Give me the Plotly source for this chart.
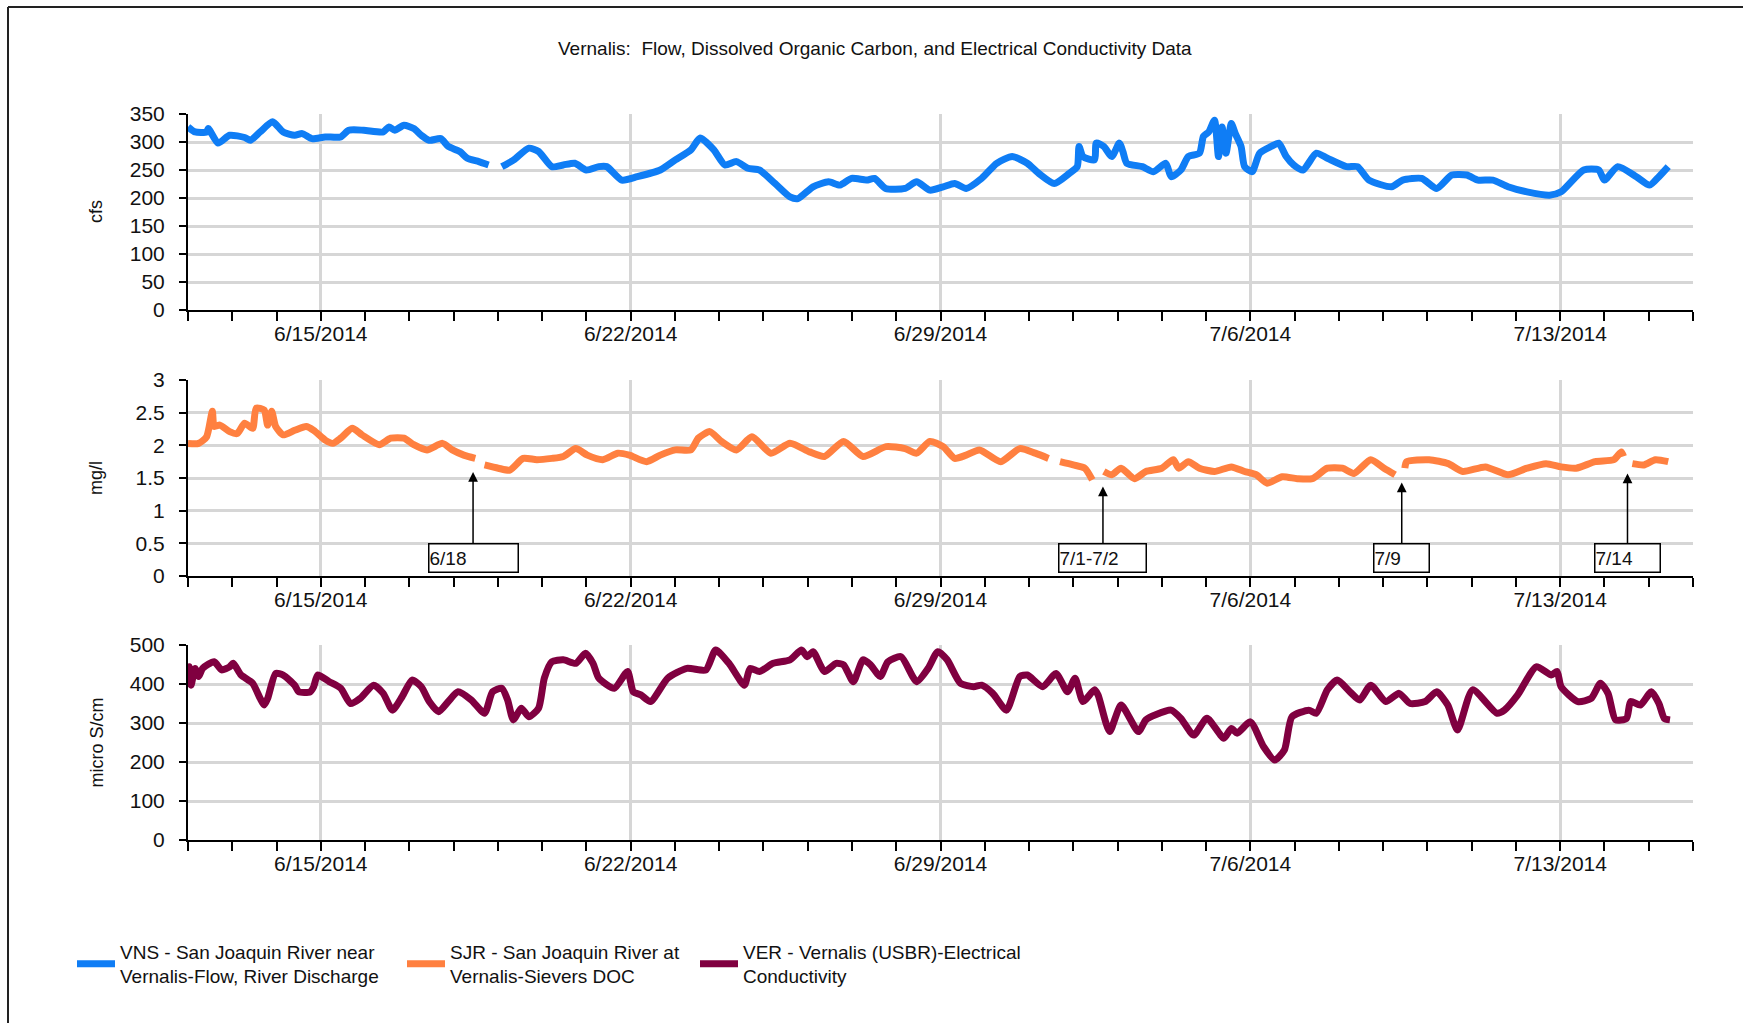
import pandas as pd
import plotly.graph_objects as go

# ---------------- DATA ----------------
START = "2014-06-12"
END = "2014-07-16"

# Flow (cfs), days after 6/12/2014 00:00 ; None = gap
flow_days = [0, 0.16, 0.42, 0.46, 0.68, 0.94, 1.28, 1.41, 1.63, 1.91, 2.15, 2.41, 2.58, 2.80,
             3.10, 3.45, 3.63, 3.97, 4.41, 4.54, 4.67, 4.88, 5.10, 5.27, 5.45, 5.71, 5.88,
             6.14, 6.31, 6.57, 6.79, 6.94, 7.09, 7.36, 7.70, 7.92, 8.22, 8.48, 8.74, 9.0,
             9.28, 9.46, 9.80, 10.15, 10.67, 11.01, 11.36, 11.57, 11.88, 12.13, 12.39,
             12.65, 12.91, 13.26, 13.60, 13.78, 14.12, 14.47, 14.73, 14.99, 15.33, 15.51,
             15.76, 16.20, 16.46, 16.76, 17.06, 17.32, 17.58, 17.93, 18.27, 18.62, 18.96,
             19.22, 19.57, 19.91, 20.09, 20.13, 20.22, 20.48, 20.52, 20.69, 20.87, 21.04,
             21.12, 21.21, 21.56, 21.81, 22.09, 22.21, 22.43, 22.60, 22.85, 22.94, 23.06,
             23.19, 23.28, 23.36, 23.45, 23.57, 23.66, 23.79, 23.87, 24.04, 24.21, 24.47,
             24.64, 24.81, 24.98, 25.19, 25.49, 25.74, 26.17, 26.42, 26.68, 27.19, 27.44,
             27.87, 28.21, 28.55, 28.89, 29.14, 29.48, 29.82, 30.25, 30.76, 31.02, 31.53,
             31.87, 32.0, 32.30, 32.72, 33.02, 33.23, 33.44]
flow_cfs = [327, 318, 318, 324, 298, 312, 308, 303, 318, 336, 318, 312, 315, 306,
            309, 309, 321, 321, 318, 327, 321, 330, 324, 312, 303, 306, 292,
            283, 271, 265, 259, None, 256, 268, 289, 283, 256, 259, 262, 250,
            256, 256, 232, 238, 250, 268, 286, 307, 286, 259, 265,
            253, 250, 226, 202, 199, 220, 229, 223, 235, 232, 235,
            217, 217, 229, 214, 220, 226, 217, 235, 262, 274, 262,
            244, 226, 244, 256, 292, 274, 268, 298, 292, 274, 298,
            283, 262, 256, 247, 262, 238, 250, 274, 280, 310, 318,
            339, 274, 327, 280, 333, 315, 292, 256, 247, 280, 292,
            298, 274, 259, 250, 280, 271, 256, 256, 232, 220, 232,
            235, 217, 241, 241, 232, 232, 220, 211, 205, 211, 250,
            250, 232, 256, 238, 223, 238, 256]

# Dissolved organic carbon (mg/l)
doc_days = [0, 0.24, 0.42, 0.55, 0.59, 0.72, 0.94, 1.11, 1.28, 1.46, 1.54, 1.72, 1.80, 1.89,
            1.98, 2.15, 2.41, 2.67, 2.84, 3.10, 3.27, 3.45, 3.71, 3.93, 4.32, 4.58, 4.88,
            5.10, 5.40, 5.75, 5.97, 6.23, 6.49, 6.60, 6.70, 7.01, 7.27, 7.57, 7.88, 8.22,
            8.48, 8.76, 9.02, 9.37, 9.71, 9.97, 10.36, 10.67, 11.01, 11.36, 11.53, 11.79,
            12.05, 12.39, 12.74, 13.17, 13.60, 14.04, 14.38, 14.81, 15.25, 15.77, 16.20,
            16.46, 16.76, 17.06, 17.32, 17.58, 17.88, 18.36, 18.79, 19.14, 19.44, 19.57,
            19.70, 20.0, 20.26, 20.43, 20.56, 20.69, 20.87, 21.08, 21.38, 21.64, 22.0,
            22.26, 22.38, 22.60, 22.85, 23.19, 23.57, 23.87, 24.13, 24.38, 24.72, 25.06,
            25.40, 25.74, 26.08, 26.34, 26.72, 27.02, 27.27, 27.38, 27.49, 27.53, 28.04,
            28.47, 28.80, 29.31, 29.82, 30.25, 30.68, 31.02, 31.36, 31.79, 32.21, 32.38,
            32.43, 32.53, 32.63, 32.89, 33.15, 33.44]
doc_mgl = [2.03, 2.03, 2.13, 2.52, 2.29, 2.31, 2.21, 2.18, 2.34, 2.26, 2.57, 2.54, 2.31, 2.52,
           2.29, 2.16, 2.23, 2.29, 2.23, 2.08, 2.03, 2.11, 2.26, 2.16, 2.01, 2.11, 2.11,
           2.01, 1.93, 2.03, 1.93, 1.85, 1.80, None, 1.70, 1.65, 1.62, 1.80, 1.78, 1.80,
           1.83, 1.95, 1.85, 1.78, 1.88, 1.85, 1.75, 1.85, 1.93, 1.93, 2.11, 2.21,
           2.06, 1.93, 2.13, 1.88, 2.03, 1.90, 1.83, 2.06, 1.83, 1.98, 1.95,
           1.88, 2.06, 1.98, 1.80, 1.85, 1.93, 1.75, 1.95, 1.88, 1.80, None,
           1.75, 1.70, 1.65, 1.47, None, 1.60, 1.55, 1.65, 1.49, 1.60, 1.65,
           1.78, 1.65, 1.75, 1.65, 1.60, 1.67, 1.60, 1.55, 1.42, 1.52, 1.49,
           1.49, 1.65, 1.65, 1.57, 1.78, 1.65, 1.55, None, 1.65, 1.75, 1.78,
           1.72, 1.60, 1.67, 1.55, 1.65, 1.72, 1.67, 1.65, 1.75, 1.78, 1.90,
           1.83, None, 1.72, 1.70, 1.78, 1.75]

# Electrical conductivity (micro S/cm)
ec_days = [0, 0.03, 0.07, 0.16, 0.24, 0.33, 0.59, 0.76, 0.94, 1.02, 1.20, 1.46, 1.63, 1.72,
           1.80, 1.98, 2.15, 2.41, 2.50, 2.76, 2.84, 2.93, 3.19, 3.45, 3.67, 3.89, 4.19,
           4.41, 4.62, 4.84, 5.06, 5.27, 5.45, 5.66, 5.88, 6.10, 6.40, 6.70, 6.88, 7.09,
           7.22, 7.35, 7.53, 7.70, 7.92, 8.05, 8.22, 8.48, 8.76, 8.98, 9.15, 9.28, 9.63,
           9.93, 10.06, 10.23, 10.45, 10.84, 11.27, 11.70, 11.92, 12.22, 12.57, 12.70,
           12.91, 13.22, 13.60, 13.86, 13.99, 14.12, 14.38, 14.64, 14.81, 15.03, 15.25,
           15.42, 15.64, 15.81, 16.11, 16.46, 16.72, 16.94, 17.15, 17.45, 17.75, 17.93,
           18.18, 18.49, 18.79, 18.96, 19.31, 19.61, 19.87, 20.04, 20.22, 20.48, 20.56,
           20.82, 21.08, 21.47, 21.64, 21.86, 22.21, 22.43, 22.72, 23.02, 23.40, 23.57,
           23.70, 24.0, 24.30, 24.55, 24.77, 24.94, 25.32, 25.49, 25.74, 25.96, 26.25,
           26.47, 26.72, 27.06, 27.36, 27.61, 27.95, 28.21, 28.46, 28.68, 29.02, 29.57,
           29.74, 30.04, 30.46, 30.80, 30.93, 31.02, 31.40, 31.70, 31.91, 32.08, 32.25,
           32.50, 32.59, 32.81, 33.06, 33.23, 33.35, 33.48]
ec_uscm = [402, 444, 397, 440, 419, 440, 457, 436, 444, 453, 423, 402, 363, 346,
           363, 427, 423, 397, 380, 380, 393, 423, 406, 389, 350, 363, 397,
           376, 333, 368, 410, 393, 355, 329, 355, 380, 359, 325, 380, 389,
           359, 308, 338, 316, 338, 415, 457, 462, 453, 479, 453, 415, 389,
           432, 380, 372, 355, 415, 440, 436, 487, 453, 397, 440,
           432, 453, 462, 487, 470, 483, 432, 453, 449, 406, 462,
           449, 419, 457, 470, 406, 440, 483, 462, 402, 393, 397,
           376, 333, 419, 423, 393, 427, 380, 415, 355, 385, 372,
           278, 346, 278, 308, 321, 333, 312, 269, 312, 261, 286,
           274, 303, 239, 205, 231, 316, 333, 325, 385, 410, 380,
           359, 397, 355, 376, 350, 355, 380, 346, 282, 385, 325,
           333, 372, 444, 423, 432, 393, 355, 363, 402, 376, 308,
           312, 355, 346, 380, 350, 312, 308]

week_ticks = ["2014-06-15", "2014-06-22", "2014-06-29", "2014-07-06", "2014-07-13"]
week_labels = ["6/15/2014", "6/22/2014", "6/29/2014", "7/6/2014", "7/13/2014"]

# Annotations on the DOC panel: label, tip day, tip value
note_labels = ["6/18", "7/1-7/2", "7/9", "7/14"]
note_days = [6.44, 20.67, 27.42, 32.52]
note_tips = [1.59, 1.37, 1.43, 1.57]
note_box_value = 0.28

series_names = ["VNS - San Joaquin River near<br>Vernalis-Flow, River Discharge",
                "SJR - San Joaquin River at<br>Vernalis-Sievers DOC",
                "VER - Vernalis (USBR)-Electrical<br>Conductivity"]
axis_titles = ["cfs", "mg/l", "micro S/cm"]
title_text = "Vernalis:  Flow, Dissolved Organic Carbon, and Electrical Conductivity Data"

# ---------------- LAYOUT CONSTANTS ----------------
W, H = 1743, 1023
PX_L, PX_R = 188, 1693
PANELS_PX = [(114, 310), (380, 576), (645, 840)]
COLORS = ["#0F7DF5", "#FF8040", "#800040"]
FONT = "Liberation Sans, Arial, sans-serif"
TXT = "#111111"
GRID = "#D6D6D6"
NOTE_BOX_W = [88, 86, 54, 64]
LEGEND_X_PX = [72, 402, 695]

base = pd.Timestamp(START)


def to_dates(days):
    return [base + pd.Timedelta(days=d) for d in days]


fig = go.Figure()
series = [(flow_days, flow_cfs), (doc_days, doc_mgl), (ec_days, ec_uscm)]
for i, ((d, v), name, col) in enumerate(zip(series, series_names, COLORS)):
    sfx = "" if i == 0 else str(i + 1)
    fig.add_trace(go.Scatter(
        x=to_dates(d), y=v, mode="lines", name=name,
        line=dict(color=col, width=7, shape="spline", smoothing=0.6), connectgaps=False,
        xaxis="x" + sfx, yaxis="y" + sfx, legend="legend" + sfx,
    ))

xdom = [PX_L / W, PX_R / W]
yranges = [[0, 350], [0, 3], [0, 500]]
ydticks = [50, 0.5, 100]
layout = dict(
    width=W, height=H, margin=dict(l=0, r=0, t=0, b=0, autoexpand=False),
    paper_bgcolor="white", plot_bgcolor="white",
    font=dict(family=FONT, color=TXT),
    showlegend=True,
)
for i, lx in enumerate(LEGEND_X_PX):
    sfx = "" if i == 0 else str(i + 1)
    layout["legend" + sfx] = dict(
        orientation="v", x=lx / W, xanchor="left", y=1 - 964 / H, yanchor="middle",
        font=dict(size=19, family=FONT, color=TXT), itemwidth=38,
        bgcolor="rgba(0,0,0,0)", borderwidth=0)

for i, (top, bot) in enumerate(PANELS_PX):
    sfx = "" if i == 0 else str(i + 1)
    ydom = [1 - bot / H, 1 - top / H]
    layout["xaxis" + sfx] = dict(
        domain=xdom, anchor="y" + sfx, type="date", range=[START, END],
        tickvals=week_ticks, ticktext=week_labels, ticks="outside", ticklen=9,
        tickwidth=2, tickcolor="black", showline=True, linecolor="black", linewidth=2,
        showgrid=True, gridcolor=GRID, gridwidth=3, zeroline=False, automargin=False,
        tickfont=dict(size=21, family=FONT, color=TXT), ticklabelstandoff=-5,
        minor=dict(dtick=86400000, tick0=START, ticks="outside", ticklen=9,
                   tickwidth=2, tickcolor="black", showgrid=False),
    )
    layout["yaxis" + sfx] = dict(
        domain=ydom, anchor="x" + sfx, range=yranges[i], dtick=ydticks[i],
        ticks="outside", ticklen=7, tickwidth=1.5, tickcolor="black",
        showline=True, linecolor="black", linewidth=2, automargin=False,
        showgrid=True, gridcolor=GRID, gridwidth=3, zeroline=False,
        tickfont=dict(size=21, family=FONT, color=TXT), ticklabelstandoff=10,
    )
fig.update_layout(**layout)

annotations = [dict(text=title_text, x=875 / W, y=1 - 49 / H, xref="paper", yref="paper",
                    showarrow=False, font=dict(size=19, family=FONT, color=TXT),
                    xanchor="center", yanchor="middle")]
for i, (top, bot) in enumerate(PANELS_PX):
    annotations.append(dict(text=axis_titles[i], x=96 / W, y=1 - (top + bot) / 2 / H,
                            xref="paper", yref="paper", showarrow=False, textangle=-90,
                            font=dict(size=18, family=FONT, color=TXT),
                            xanchor="center", yanchor="middle"))
for lab, d, tip, w in zip(note_labels, note_days, note_tips, NOTE_BOX_W):
    xd = base + pd.Timedelta(days=d)
    annotations.append(dict(
        text=lab, x=xd, y=tip, xref="x2", yref="y2",
        ax=xd, ay=note_box_value, axref="x2", ayref="y2",
        showarrow=True, arrowhead=2, arrowsize=1.3, arrowwidth=1.5, arrowcolor="black",
        bordercolor="black", borderwidth=1.5, bgcolor="white", borderpad=0,
        width=w, height=27, align="left", valign="middle",
        font=dict(size=19, family=FONT, color=TXT), standoff=0,
    ))
fig.update_layout(annotations=annotations)

# outer frame of the chart control
fig.add_shape(type="line", xref="paper", yref="paper", x0=8 / W, x1=1.0, y0=1 - 7 / H, y1=1 - 7 / H,
              line=dict(color="#222222", width=2))
fig.add_shape(type="line", xref="paper", yref="paper", x0=8 / W, x1=8 / W, y0=0, y1=1 - 7 / H,
              line=dict(color="#222222", width=2))

fig.write_html("out.html", config={"displayModeBar": False},
               post_script="document.body.style.margin='0px';")
